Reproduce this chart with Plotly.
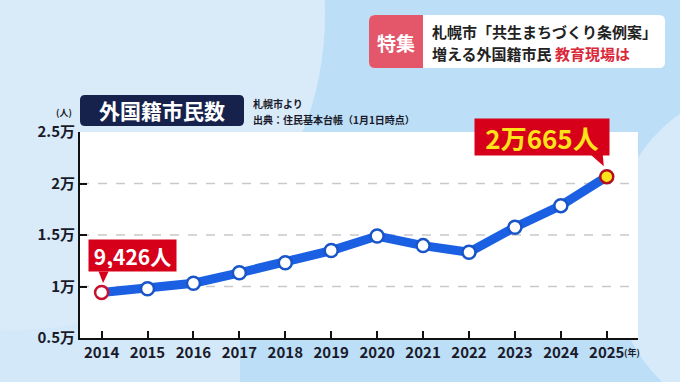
import plotly.graph_objects as go

# ---- data ----
years = [2014, 2015, 2016, 2017, 2018, 2019, 2020, 2021, 2022, 2023, 2024, 2025]
residents = [9426, 9780, 10320, 11330, 12300, 13490, 14900, 13970, 13320, 15750, 17850, 20665]
y_ticks = [5000, 10000, 15000, 20000, 25000]
y_labels = ["0.5万", "1万", "1.5万", "2万", "2.5万"]
x_labels = [str(y) for y in years]
grid_vals = [10000, 15000, 20000]

# ---- layout geometry (pixels) ----
W, H = 680, 382
L, R, T, B = 80, 42, 132, 44
PW, PH = W - L - R, H - T - B
FONT = "Noto Sans CJK JP"


def fx(px):
    return (px - L) / PW


def fy(py):
    return (H - B - py) / PH


def rrect(x0, y0, x1, y1, r, rl=True, rr=True):
    rL = r if rl else 0
    rR = r if rr else 0
    X, Y = fx, fy
    return (f"M {X(x0 + rL)},{Y(y0)} L {X(x1 - rR)},{Y(y0)} "
            f"Q {X(x1)},{Y(y0)} {X(x1)},{Y(y0 + rR)} L {X(x1)},{Y(y1 - rR)} "
            f"Q {X(x1)},{Y(y1)} {X(x1 - rR)},{Y(y1)} L {X(x0 + rL)},{Y(y1)} "
            f"Q {X(x0)},{Y(y1)} {X(x0)},{Y(y1 - rL)} L {X(x0)},{Y(y0 + rL)} "
            f"Q {X(x0)},{Y(y0)} {X(x0 + rL)},{Y(y0)} Z")


n = len(years)
m_fill = ["white"] * n
m_line = ["#1a55c8"] * n
m_fill[0], m_line[0] = "white", "#c8102e"
m_fill[-1], m_line[-1] = "#ffe31a", "#b01020"

fig = go.Figure()
fig.add_trace(go.Scatter(
    x=years, y=residents, mode="lines+markers",
    line=dict(color="#1b60e2", width=9),
    marker=dict(size=13, color=m_fill, line=dict(color=m_line, width=2.5)),
    cliponaxis=False, hoverinfo="skip",
))

shapes = []
# background decoration
shapes.append(dict(type="rect", xref="paper", yref="paper", x0=fx(0), x1=fx(W), y0=fy(H), y1=fy(0),
                   fillcolor="#bcdff7", line_width=0, layer="below"))
shapes.append(dict(type="rect", xref="paper", yref="paper", x0=fx(0), x1=fx(240), y0=fy(H), y1=fy(0),
                   fillcolor="#d3e8f8", line_width=0, layer="below"))
shapes.append(dict(type="circle", xref="paper", yref="paper", x0=fx(-300), x1=fx(325), y0=fy(330), y1=fy(-300),
                   fillcolor="#d9ebf9", line_width=0, layer="below"))
shapes.append(dict(type="circle", xref="paper", yref="paper", x0=fx(610), x1=fx(900), y0=fy(420), y1=fy(90),
                   fillcolor="#d6eaf9", line_width=0, layer="below"))
# white chart panel
shapes.append(dict(type="rect", xref="paper", yref="paper", x0=0, x1=1, y0=0, y1=1,
                   fillcolor="white", line_width=0, layer="below"))
# dashed grid
for g in grid_vals:
    shapes.append(dict(type="line", xref="paper", yref="y", x0=0, x1=1, y0=g, y1=g,
                       line=dict(color="#c9c9c9", width=1.5, dash="dash"), layer="below"))
# title box
shapes.append(dict(type="path", xref="paper", yref="paper", path=rrect(80, 95, 244, 126, 5),
                   fillcolor="#17224c", line_width=0, layer="below"))
# banner
shapes.append(dict(type="path", xref="paper", yref="paper", path=rrect(369, 15, 665, 68, 6),
                   fillcolor="white", line_width=0, layer="below"))
shapes.append(dict(type="path", xref="paper", yref="paper", path=rrect(369, 15, 423, 68, 6, rr=False),
                   fillcolor="#e4566a", line_width=0, layer="below"))
# callout pointers (pixel offsets from the data point)
shapes.append(dict(type="path", xref="x", yref="y", xsizemode="pixel", ysizemode="pixel",
                   xanchor=years[0], yanchor=residents[0],
                   path="M -3,21 L 7,21 L 1.5,9.5 Z", fillcolor="#d7001b", line_width=0, layer="above"))
shapes.append(dict(type="path", xref="x", yref="y", xsizemode="pixel", ysizemode="pixel",
                   xanchor=years[-1], yanchor=residents[-1],
                   path="M -16,22 L -4,22 L -3,10.5 Z", fillcolor="#d7001b", line_width=0, layer="above"))

first_lbl = f"{residents[0]:,}人"
last_lbl = f"{residents[-1] // 10000}万{residents[-1] % 10000}人"

annotations = [
    dict(x=years[0], y=residents[0], xref="x", yref="y", text=first_lbl, showarrow=False,
         xanchor="left", yanchor="bottom", xshift=-14, yshift=20,
         bgcolor="#d7001b", borderpad=3, width=81, height=25,
         font=dict(family=FONT, size=21, color="white", weight="bold")),
    dict(x=years[-1], y=residents[-1], xref="x", yref="y", text=last_lbl, showarrow=False,
         xanchor="right", yanchor="bottom", xshift=3, yshift=21,
         bgcolor="#d7001b", borderpad=4, width=126, height=28,
         font=dict(family=FONT, size=26, color="#ffe31a", weight="bold")),
    # title
    dict(x=fx(162), y=fy(110.5), xref="paper", yref="paper", text="外国籍市民数", showarrow=False,
         xanchor="center", yanchor="middle",
         font=dict(family=FONT, size=21, color="white", weight="bold")),
    dict(x=fx(251), y=fy(103), xref="paper", yref="paper", text="札幌市より", showarrow=False,
         xanchor="left", yanchor="middle", font=dict(family=FONT, size=10, color="#1a1a2a", weight="bold")),
    dict(x=fx(251), y=fy(119), xref="paper", yref="paper", text="出典：住民基本台帳（1月1日時点）", showarrow=False,
         xanchor="left", yanchor="middle", font=dict(family=FONT, size=10, color="#1a1a2a", weight="bold")),
    dict(x=fx(64), y=fy(112), xref="paper", yref="paper", text="(人)", showarrow=False,
         xanchor="center", yanchor="middle", font=dict(family=FONT, size=9, color="#1a1a2a", weight="bold")),
    dict(x=fx(622), y=fy(352), xref="paper", yref="paper", text="(年)", showarrow=False,
         xanchor="left", yanchor="middle", font=dict(family=FONT, size=9, color="#1a1a2a", weight="bold")),
    # banner text
    dict(x=fx(396), y=fy(42), xref="paper", yref="paper", text="特集", showarrow=False,
         xanchor="center", yanchor="middle", font=dict(family=FONT, size=19, color="white", weight="bold")),
    dict(x=fx(430), y=fy(31), xref="paper", yref="paper", text="札幌市「共生まちづくり条例案」", showarrow=False,
         xanchor="left", yanchor="middle", font=dict(family=FONT, size=15, color="#222222", weight="bold")),
    dict(x=fx(430), y=fy(54), xref="paper", yref="paper",
         text="増える外国籍市民 <span style='color:#d8283a'>教育現場は</span>", showarrow=False,
         xanchor="left", yanchor="middle", font=dict(family=FONT, size=15, color="#222222", weight="bold")),
]

fig.update_layout(
    width=W, height=H,
    margin=dict(l=L, r=R, t=T, b=B, autoexpand=False),
    paper_bgcolor="#bcdff7", plot_bgcolor="rgba(0,0,0,0)",
    showlegend=False,
    shapes=shapes, annotations=annotations,
    font=dict(family=FONT, color="#1a1a2a"),
    xaxis=dict(range=[2013.53, 2025.68], tickvals=years, ticktext=x_labels, automargin=False,
               showgrid=False, zeroline=False, showline=True, linecolor="#111111", linewidth=2,
               ticks="inside", ticklen=7, tickwidth=2, tickcolor="#111111",
               tickfont=dict(family=FONT, size=15, color="#1a1a2a", weight="bold")),
    yaxis=dict(range=[5000, 25000], tickvals=y_ticks, ticktext=y_labels, automargin=False,
               showgrid=False, zeroline=False, showline=True, linecolor="#111111", linewidth=2,
               ticks="inside", ticklen=7, tickwidth=2, tickcolor="#111111",
               tickfont=dict(family=FONT, size=15, color="#1a1a2a", weight="bold")),
)

fig.write_html("out.html", config={"displayModeBar": False, "staticPlot": True},
               post_script="document.body.style.margin='0px';document.body.style.overflow='hidden';")
